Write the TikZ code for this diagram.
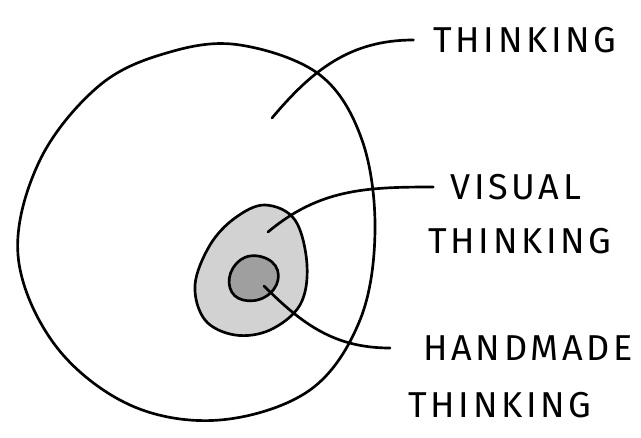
\documentclass[tikz,border=0pt]{standalone}
\usepackage{fontspec}
\setmainfont{Fira Sans}[LetterSpace=10]
\begin{document}
\begin{tikzpicture}[x=0.75pt,y=-0.75pt,
            pen/.style={line width=2pt, line cap=round, line join=round},
            hand/.style={font=\fontsize{27}{30}\selectfont, inner sep=1pt}
            ]
            \useasboundingbox (0,0) rectangle (641,438);

            % big area
            \draw[pen] plot[smooth cycle, tension=0.6] coordinates {
                (240,45) (320,75) (362,140) (375,230) (360,320) (310,390)
                (220,420) (130,405) (55,345) (18,255) (40,160) (100,85) (170,52)};
            % visual area
            \draw[pen, fill=gray!35] plot[smooth cycle, tension=0.6] coordinates {
                (265,205) (295,220) (307,265) (300,305) (270,330) (235,335)
                (205,320) (195,285) (210,245) (235,218)};
            % handmade area
            \draw[pen, fill=gray!75] plot[smooth cycle, tension=0.7] coordinates {
                (250,256) (272,262) (278,280) (265,297) (243,300) (230,288) (233,268)};

            \node[hand] (think) at (525,40) {THINKING};
            \node[hand] (visual) at (516,187) {VISUAL};
            \node[hand] at (520,241) {THINKING};
            \node[hand] (handmade) at (528,348) {HANDMADE};
            \node[hand] at (500,405) {THINKING};

            \coordinate (t) at (272,118);
            \coordinate (v) at (268,232);
            \coordinate (h) at (264,286);

            \draw[pen] (t) to[out=50, in=180] ([xshift=-14]think.west);
            \draw[pen] (v) to[out=40, in=180] ([xshift=-12]visual.west);
            \draw[pen] (h) to[out=-45, in=180] ([xshift=-24]handmade.west);
\end{tikzpicture}
\end{document}
